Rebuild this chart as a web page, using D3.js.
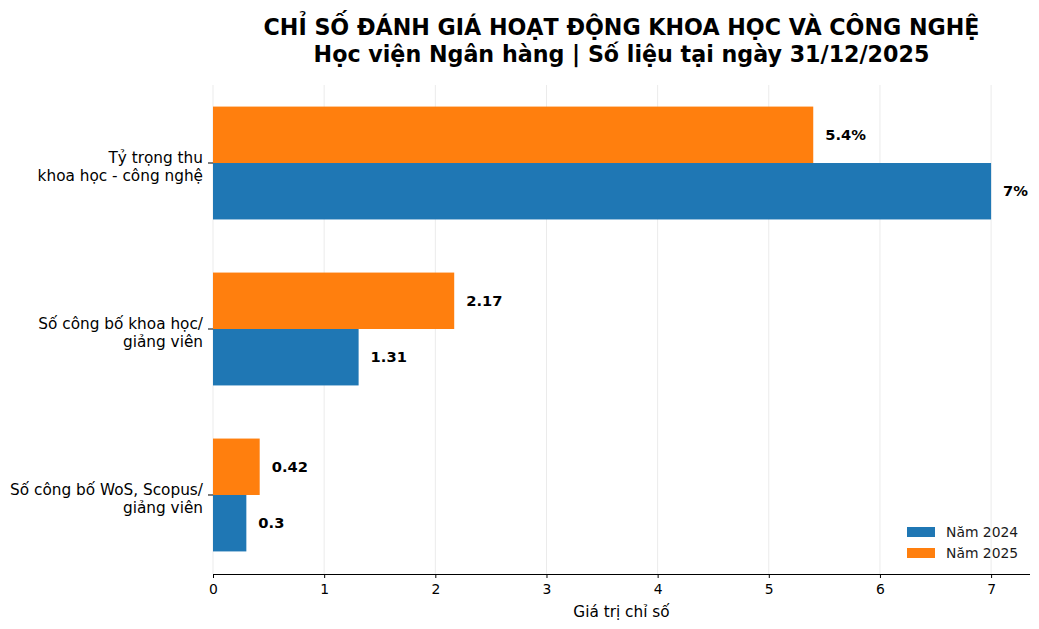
<!DOCTYPE html>
<html>
<head>
<meta charset="utf-8">
<script src="https://cdn.jsdelivr.net/npm/d3@7"></script>
<style>
  body { margin: 0; background: #fff; }
  text { font-family: "DejaVu Sans", sans-serif; }
</style>
</head>
<body>
<script>
const categories = ["Tỷ trọng thu\nkhoa học - công nghệ", "Số công bố khoa học/\ngiảng viên", "Số công bố WoS, Scopus/\ngiảng viên"];
const values2024 = [7, 1.31, 0.3];
const values2025 = [5.4, 2.17, 0.42];
const labels2024 = ["7%", "1.31", "0.3"];
const labels2025 = ["5.4%", "2.17", "0.42"];
const seriesNames = ["Năm 2024", "Năm 2025"];
const xTicks = [0, 1, 2, 3, 4, 5, 6, 7];

const width = 1039, height = 629;
const margin = { left: 213, right: 9, top: 85, bottom: 55 };
const colors = ["#1f77b4", "#ff7f0e"];
const barH = 0.34;

const svg = d3.select("body").append("svg")
  .attr("width", width).attr("height", height);

const x = d3.scaleLinear().domain([0, 7.35]).range([margin.left, width - margin.right]);
const y = d3.scaleLinear().domain([-0.47, 2.476]).range([margin.top, height - margin.bottom]);

// grid
svg.append("g")
  .selectAll("line")
  .data(xTicks)
  .join("line")
  .attr("x1", d => x(d)).attr("x2", d => x(d))
  .attr("y1", margin.top).attr("y2", height - margin.bottom)
  .attr("stroke", "#ebebeb").attr("stroke-width", 1);

// bars: 2025 above, 2024 below
const rows = categories.map((c, i) => ({ i, v24: values2024[i], v25: values2025[i], l24: labels2024[i], l25: labels2025[i] }));

svg.append("g").selectAll("rect")
  .data(rows)
  .join("rect")
  .attr("x", x(0))
  .attr("y", d => y(d.i - barH))
  .attr("width", d => x(d.v25) - x(0))
  .attr("height", y(barH) - y(0))
  .attr("fill", colors[1]);

svg.append("g").selectAll("rect")
  .data(rows)
  .join("rect")
  .attr("x", x(0))
  .attr("y", d => y(d.i))
  .attr("width", d => x(d.v24) - x(0))
  .attr("height", y(barH) - y(0))
  .attr("fill", colors[0]);

// value labels
svg.append("g").selectAll("text")
  .data(rows)
  .join("text")
  .attr("x", d => x(d.v25) + 12)
  .attr("y", d => y(d.i - barH / 2))
  .attr("dy", "0.35em")
  .style("font-size", "14.7px").style("font-weight", "bold")
  .text(d => d.l25);

svg.append("g").selectAll("text")
  .data(rows)
  .join("text")
  .attr("x", d => x(d.v24) + 12)
  .attr("y", d => y(d.i + barH / 2))
  .attr("dy", "0.35em")
  .style("font-size", "14.7px").style("font-weight", "bold")
  .text(d => d.l24);

// x axis
const xAxis = d3.axisBottom(x).tickValues(xTicks).tickSize(4).tickPadding(6).tickFormat(d3.format("d"));
const gx = svg.append("g")
  .attr("transform", `translate(0,${height - margin.bottom})`)
  .call(xAxis);
gx.select(".domain").attr("stroke", "#000").attr("stroke-width", 1.2).attr("d", `M${x(0)},0.5H${width - margin.right}`);
gx.selectAll(".tick line").attr("stroke", "#000");
gx.selectAll(".tick text").style("font-size", "13.9px").style("font-family", "DejaVu Sans").attr("fill", "#000");

// y ticks
const gy = svg.append("g");
rows.forEach(d => {
  gy.append("line")
    .attr("x1", x(0) - 5).attr("x2", x(0))
    .attr("y1", y(d.i)).attr("y2", y(d.i))
    .attr("stroke", "#000");
  const lines = categories[d.i].split("\n");
  const t = gy.append("text")
    .attr("x", x(0) - 10)
    .attr("y", y(d.i))
    .attr("text-anchor", "end")
    .style("font-size", "15.3px")
    .attr("fill", "#000");
  lines.forEach((ln, k) => {
    t.append("tspan")
      .attr("x", x(0) - 10)
      .attr("dy", k === 0 ? "0em" : "1.2em")
      .text(ln);
  });
});

// x label
svg.append("text")
  .attr("x", (x(0) + width - margin.right) / 2)
  .attr("y", 617)
  .attr("text-anchor", "middle")
  .style("font-size", "15.3px")
  .text("Giá trị chỉ số");

// title
const tx = (x(0) + width - margin.right) / 2;
svg.append("text").attr("x", tx).attr("y", 35).attr("text-anchor", "middle")
  .style("font-size", "22.2px").style("font-weight", "bold")
  .text("CHỈ SỐ ĐÁNH GIÁ HOẠT ĐỘNG KHOA HỌC VÀ CÔNG NGHỆ");
svg.append("text").attr("x", tx).attr("y", 62).attr("text-anchor", "middle")
  .style("font-size", "22.2px").style("font-weight", "bold")
  .text("Học viện Ngân hàng | Số liệu tại ngày 31/12/2025");

// legend
const lg = svg.append("g").attr("transform", "translate(907,527)");
seriesNames.forEach((n, k) => {
  lg.append("rect").attr("x", 0).attr("y", k * 21).attr("width", 28).attr("height", 10).attr("fill", colors[k]);
  lg.append("text").attr("x", 39).attr("y", k * 21 + 5).attr("dy", "0.35em")
    .style("font-size", "13.9px").attr("fill", "#1a1a1a").text(n);
});
</script>
</body>
</html>
